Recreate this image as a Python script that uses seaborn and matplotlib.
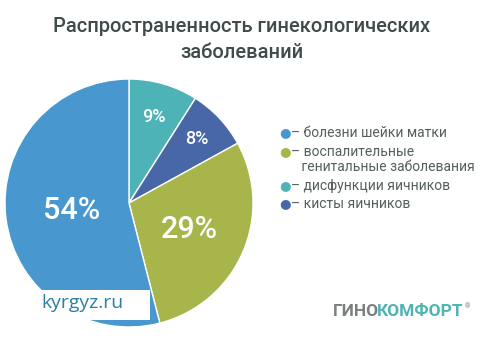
import matplotlib
matplotlib.use("Agg")
import matplotlib.pyplot as plt
import seaborn as sns
import numpy as np
from matplotlib.patches import Rectangle

# Share of gynecological diseases, drawn clockwise from 12 o'clock
categories = ["– дисфункции яичников", "– кисты яичников",
              "– воспалительные\n   генитальные заболевания", "– болезни шейки матки"]
values = [9, 8, 29, 54]
colors = ["#4db3b6", "#4767a6", "#a7b54b", "#4898cf"]
legend_order = [3, 2, 0, 1]
label_radius = [0.72, 0.75, 0.53, 0.47]
label_size = [13, 13, 22, 22]

sns.set_theme(style="white")
plt.rcParams["font.family"] = ["Roboto", "DejaVu Sans"]

fig = plt.figure(figsize=(4.8, 3.4), dpi=100)
fig.patch.set_facecolor("white")

# Pie axes: centre ~(129,203) px, radius ~124 px
R = 124
cx, cy = 129, 203
ax = fig.add_axes([(cx - R) / 480, (340 - cy - R) / 340, 2 * R / 480, 2 * R / 340])
wedges, _ = ax.pie(values, colors=colors, startangle=90, counterclock=False,
                   wedgeprops=dict(edgecolor="white", linewidth=1.0))
ax.set_xlim(-1, 1)
ax.set_ylim(-1, 1)
ax.set_aspect("equal")
ax.axis("off")

for w, v, r, fs in zip(wedges, values, label_radius, label_size):
    ang = np.deg2rad((w.theta1 + w.theta2) / 2)
    ax.text(r * np.cos(ang), r * np.sin(ang), f"{v}%", color="white",
            fontsize=fs, ha="center", va="center", fontweight="medium")

# Title
fig.text(242 / 480, 1 - 27 / 340, "Распространенность гинекологических",
         ha="center", va="center", fontsize=14.5, color="#3f4b4b", fontweight="medium")
fig.text(242 / 480, 1 - 53 / 340, "заболеваний",
         ha="center", va="center", fontsize=14.5, color="#3f4b4b", fontweight="medium")

# Legend
legend_y = [133, 152, 186, 204]
for idx, y in zip(legend_order, legend_y):
    fig.text(285 / 480, 1 - y / 340, "●", color=colors[idx], fontsize=9.5,
             ha="center", va="center", family=["DejaVu Sans"])
    multi = "\n" in categories[idx]
    fig.text(291 / 480, 1 - (145 if multi else y) / 340, categories[idx],
             color="#555f60", fontsize=10, ha="left",
             va="top" if multi else "center", linespacing=1.05)

# Watermark box
fig.patches.append(Rectangle((30 / 480, 1 - 320 / 340), 120 / 480, 30 / 340,
                             transform=fig.transFigure, facecolor="white",
                             edgecolor="none", zorder=5))
fig.text(41 / 480, 1 - 303 / 340, "kyrgyz.ru", color="#2b7fa2", fontsize=14,
         ha="left", va="center", zorder=6, family=["Open Sans", "DejaVu Sans"])

# Brand logo
t1 = fig.text(333 / 480, 1 - 312 / 340, "ГИНО", color="#7a7f80", fontsize=12.5,
              fontweight="bold", ha="left", va="center")
fig.canvas.draw()
bb = t1.get_window_extent()
t2 = fig.text((bb.x1 - 2) / 480, 1 - 312 / 340, "КОМФОРТ", color="#4eb3b3",
              fontsize=12.5, fontweight="bold", ha="left", va="center")
fig.canvas.draw()
bb2 = t2.get_window_extent()
fig.text(bb2.x1 / 480 + 0.002, 1 - 307 / 340, "®", color="#7a7f80", fontsize=5,
         ha="left", va="center")

fig.savefig("out.png", dpi=100, facecolor="white")
